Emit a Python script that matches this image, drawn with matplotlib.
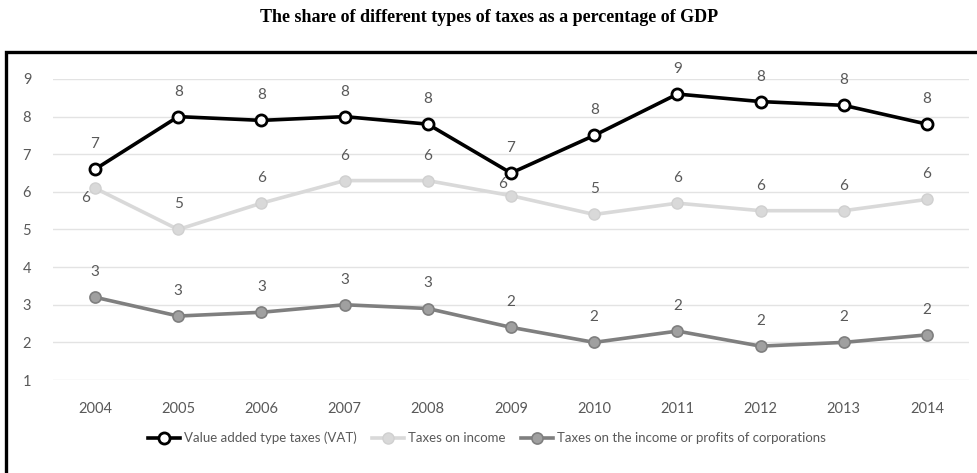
import matplotlib
matplotlib.use("Agg")
import matplotlib.pyplot as plt
from matplotlib.patches import Rectangle
import numpy as np

years = ['2004', '2005', '2006', '2007', '2008', '2009', '2010', '2011', '2012', '2013', '2014']
vat = [6.6, 8.0, 7.9, 8.0, 7.8, 6.5, 7.5, 8.6, 8.4, 8.3, 7.8]
income = [6.1, 5.0, 5.7, 6.3, 6.3, 5.9, 5.4, 5.7, 5.5, 5.5, 5.8]
corp = [3.2, 2.7, 2.8, 3.0, 2.9, 2.4, 2.0, 2.3, 1.9, 2.0, 2.2]
vat_labels = ['7', '8', '8', '8', '8', '7', '8', '9', '8', '8', '8']
income_labels = ['6', '5', '6', '6', '6', '6', '5', '6', '6', '6', '6']
corp_labels = ['3', '3', '3', '3', '3', '2', '2', '2', '2', '2', '2']

plt.rcParams['font.family'] = ['Lato', 'DejaVu Sans']

fig = plt.figure(figsize=(9.78, 4.73), dpi=100)
ax = fig.add_axes([53.4 / 978, 1 - 380 / 473, (968.6 - 53.4) / 978, (380 - 79) / 473])

x = np.arange(len(years))
txt = '#595959'

ax.plot(x, vat, color='black', lw=2.6, marker='o', ms=8, mfc='white', mec='black', mew=2,
        label='Value added type taxes (VAT)', zorder=5)
ax.plot(x, income, color='#d9d9d9', lw=2.6, marker='o', ms=8, mfc='#d9d9d9', mec='#d0d0d0', mew=1,
        label='Taxes on income', zorder=3)
ax.plot(x, corp, color='#7f7f7f', lw=2.6, marker='o', ms=8, mfc='#a0a0a0', mec='#7f7f7f', mew=1.2,
        label='Taxes on the income or profits of corporations', zorder=4)

for i in range(len(years)):
    ax.annotate(vat_labels[i], (x[i], vat[i]), xytext=(0, 13), textcoords='offset points',
                ha='center', va='bottom', fontsize=11, color=txt)
    ax.annotate(corp_labels[i], (x[i], corp[i]), xytext=(0, 13), textcoords='offset points',
                ha='center', va='bottom', fontsize=11, color=txt)
    if i == 0:
        off, va = (-7, -2), 'top'
    elif i == 5:
        off, va = (-6, 3), 'bottom'
    else:
        off, va = (0, 13), 'bottom'
    ax.annotate(income_labels[i], (x[i], income[i]), xytext=off, textcoords='offset points',
                ha='center', va=va, fontsize=11, color=txt)

ax.set_xlim(-0.5, 10.5)
ax.set_ylim(1, 9)
ax.set_yticks(range(1, 10))
ax.set_xticks(x)
ax.set_xticklabels(years)
ax.tick_params(length=0, labelsize=10.5, labelcolor=txt)
ax.tick_params(axis='x', pad=16)
ax.tick_params(axis='y', pad=16)
ax.grid(axis='y', color='#e3e3e3', lw=1)
ax.set_axisbelow(True)
for s in ax.spines.values():
    s.set_visible(False)

leg = fig.legend(loc='center', bbox_to_anchor=(487 / 978, 1 - 438 / 473), ncol=3, frameon=False,
                 fontsize=9.5, handlelength=2.4, columnspacing=1.2, handletextpad=0.3)
for t in leg.get_texts():
    t.set_color(txt)

fig.text(0.5, 1 - 17 / 473, 'The share of different types of taxes as a percentage of GDP',
         ha='center', va='center', fontsize=13, fontweight='bold', family='Liberation Serif')

fig.patches.append(Rectangle((6 / 978, -0.1), 1.2, (473 - 52) / 473 + 0.1, transform=fig.transFigure,
                             fill=False, ec='black', lw=2.4, clip_on=False))

fig.savefig('out.png', dpi=100)
